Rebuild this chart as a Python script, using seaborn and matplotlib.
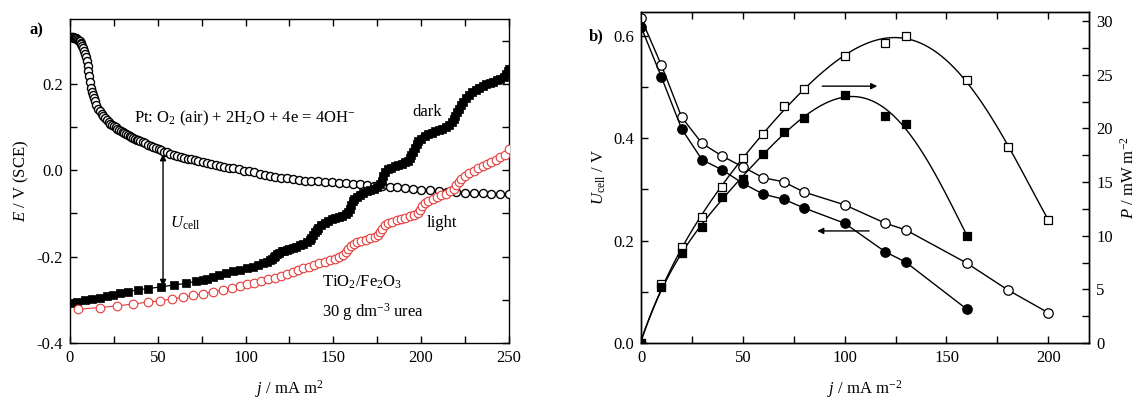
import numpy as np
import pandas as pd
import matplotlib
matplotlib.use("Agg")
import matplotlib.pyplot as plt
from matplotlib.ticker import MultipleLocator
import seaborn as sns

# ---------------- data: panel a ----------------
pt_j = [0.5, 1, 1.5, 2, 2.5, 3, 3.5, 4, 4.5, 5, 5.5, 6, 6.5, 7, 7.5, 8, 8.5, 9, 9.5, 10,
        10.5, 11, 11.5, 12, 12.5, 13, 13.5, 14, 15, 16, 17, 18, 19, 20, 21, 22, 23, 24, 25,
        26, 27, 28, 29, 30, 31, 32, 33, 34, 35, 36, 37, 38, 39, 40, 41.5, 43, 44.5, 46, 47.5,
        49, 50.5, 52, 53.5, 55, 57, 59, 61, 63, 65, 67, 69, 71, 73, 75.5, 78, 80.5, 83, 85.5,
        88, 90.5, 93, 96, 99, 102, 105, 108, 111, 114, 117, 120, 123.5, 127, 130.5, 134,
        137.5, 141, 145, 149, 153, 157, 161, 165, 169, 173, 177.5, 182, 186.5, 191, 195.5,
        200, 205, 210, 215, 220, 225, 230, 235, 240, 245, 250]
pt_E = [0.308, 0.308, 0.308, 0.307, 0.307, 0.306, 0.305, 0.304, 0.302, 0.300, 0.298, 0.295,
        0.291, 0.287, 0.282, 0.276, 0.269, 0.261, 0.252, 0.242, 0.230, 0.217, 0.203, 0.191,
        0.181, 0.173, 0.166, 0.160, 0.150, 0.142, 0.136, 0.130, 0.125, 0.120, 0.116, 0.112,
        0.108, 0.105, 0.102, 0.099, 0.096, 0.093, 0.090, 0.088, 0.085, 0.083, 0.081, 0.079,
        0.077, 0.075, 0.073, 0.071, 0.069, 0.067, 0.065, 0.062, 0.059, 0.057, 0.054, 0.052,
        0.049, 0.046, 0.043, 0.041, 0.038, 0.035, 0.033, 0.031, 0.029, 0.027, 0.025, 0.023,
        0.021, 0.019, 0.016, 0.014, 0.012, 0.010, 0.008, 0.006, 0.004, 0.002, -0.001, -0.003,
        -0.005, -0.008, -0.010, -0.013, -0.015, -0.017, -0.019, -0.021, -0.022,
        -0.024, -0.025, -0.026, -0.027, -0.028, -0.029, -0.030, -0.031, -0.032, -0.034,
        -0.036, -0.037, -0.039, -0.040, -0.042, -0.044, -0.045, -0.047, -0.048, -0.050,
        -0.051, -0.052, -0.053, -0.053, -0.054, -0.055, -0.055]

dark_j = [2, 4, 8.5, 12.3, 17, 21, 24.7, 28.5, 33, 39, 44.6, 52, 59, 66, 72, 76, 78, 81.6, 85,
          89, 93, 97, 100.6, 104, 107, 110, 112, 114, 115, 116, 117, 118, 119, 120.5, 122,
          123.5, 125, 127, 129, 131, 133, 135, 136.5, 137.5, 138.5, 139.5, 140.5, 141.5, 143,
          145, 147, 149, 151, 153, 155, 157, 158.5, 159.5, 160.3, 161, 162, 163.5, 165, 167,
          169, 171, 173, 175, 176.5, 177.5, 178.5, 179.5, 181, 183, 185, 187, 189, 191,
          192.5, 193.5, 194.5, 195.5, 196.5, 197.5, 198.5, 200, 202, 204, 206, 208, 210, 212,
          214, 216, 217.5, 218.5, 219.5, 220.5, 221.5, 222.5, 224, 225.5, 227, 229, 231, 233,
          235, 237, 239, 241, 243, 245, 247, 248.5, 249.5, 250]
dark_E = [-0.307, -0.306, -0.300, -0.298, -0.295, -0.292, -0.290, -0.285, -0.281, -0.277,
          -0.274, -0.270, -0.266, -0.262, -0.257, -0.254, -0.251, -0.247, -0.243, -0.238,
          -0.234, -0.230, -0.227, -0.223, -0.220, -0.216, -0.213, -0.209, -0.206, -0.202,
          -0.198, -0.194, -0.191, -0.188, -0.186, -0.184, -0.182, -0.180, -0.177, -0.174,
          -0.171, -0.167, -0.162, -0.156, -0.150, -0.144, -0.138, -0.133, -0.127, -0.122,
          -0.118, -0.114, -0.111, -0.108, -0.105, -0.102, -0.097, -0.089, -0.080, -0.072,
          -0.066, -0.061, -0.057, -0.053, -0.049, -0.046, -0.043, -0.039, -0.033, -0.024,
          -0.013, -0.004, 0.002, 0.006, 0.009, 0.012, 0.015, 0.018, 0.022, 0.028, 0.035,
          0.043, 0.052, 0.060, 0.067, 0.073, 0.079, 0.083, 0.087, 0.090, 0.093, 0.096, 0.100,
          0.105, 0.111, 0.118, 0.126, 0.134, 0.142, 0.150, 0.158, 0.166, 0.173, 0.180, 0.186,
          0.191, 0.195, 0.199, 0.202, 0.205, 0.208, 0.212, 0.216, 0.222, 0.230, 0.235]

light_j = [4.7, 17, 26.6, 36, 44.6, 51, 58, 64.5, 70, 76, 81.6, 87, 92, 97, 101, 105, 109,
           113, 116.5, 120, 123.5, 127, 130, 133, 136, 139, 142, 145, 148, 151, 153.5, 155.5,
           157, 158.5, 160, 161.5, 163.5, 166, 168.5, 171, 173.5, 175.5, 176.8, 178, 179.3,
           181, 183.5, 186, 188.5, 191, 193.5, 196, 198, 199.3, 200.5, 202, 204, 206.5, 209,
           211.5, 214, 216.5, 218.5, 220, 221.5, 223, 225, 227.5, 230, 232.5, 235, 237.5,
           240, 242.5, 245, 247.5, 250]
light_E = [-0.322, -0.318, -0.314, -0.310, -0.305, -0.303, -0.298, -0.294, -0.290, -0.286,
           -0.281, -0.277, -0.273, -0.268, -0.264, -0.260, -0.256, -0.252, -0.249, -0.244,
           -0.240, -0.235, -0.231, -0.227, -0.223, -0.220, -0.216, -0.212, -0.209, -0.205,
           -0.201, -0.196, -0.190, -0.183, -0.176, -0.171, -0.167, -0.164, -0.161, -0.158,
           -0.155, -0.150, -0.143, -0.135, -0.128, -0.122, -0.119, -0.116, -0.113, -0.110,
           -0.107, -0.104, -0.099, -0.092, -0.084, -0.076, -0.071, -0.067, -0.063, -0.058,
           -0.054, -0.049, -0.043, -0.035, -0.027, -0.020, -0.013, -0.007, -0.002, 0.004,
           0.009, 0.014, 0.019, 0.024, 0.030, 0.036, 0.048]

# ---------------- data: panel b ----------------
uo_j = [0, 10, 20, 30, 40, 50, 60, 70, 80, 100, 120, 130, 160, 180, 200]
uo_U = [0.635, 0.543, 0.441, 0.390, 0.365, 0.344, 0.323, 0.315, 0.295, 0.270, 0.234, 0.221,
        0.156, 0.104, 0.059]
uf_j = [0, 10, 20, 30, 40, 50, 60, 70, 80, 100, 120, 130, 160]
uf_U = [0.618, 0.520, 0.418, 0.358, 0.338, 0.312, 0.291, 0.281, 0.264, 0.234, 0.178, 0.158,
        0.066]
po_j = [0, 10, 20, 30, 40, 50, 60, 70, 80, 100, 120, 130, 160, 180, 200]
po_P = [0.0, 5.5, 8.9, 11.7, 14.5, 17.2, 19.5, 22.1, 23.7, 26.7, 28.0, 28.6, 24.5, 18.3, 11.5]
pf_j = [0, 10, 20, 30, 40, 50, 60, 70, 80, 100, 120, 130, 160]
pf_P = [0.0, 5.2, 8.4, 10.8, 13.6, 15.3, 17.6, 19.7, 21.0, 23.1, 21.2, 20.4, 10.0]

# ---------------- style ----------------
sns.set_style("ticks")
plt.rcParams["font.family"] = ["Liberation Serif", "DejaVu Serif"]
plt.rcParams["mathtext.fontset"] = "custom"
plt.rcParams["mathtext.rm"] = "Liberation Serif"
plt.rcParams["mathtext.it"] = "Liberation Serif:italic"
plt.rcParams["mathtext.bf"] = "Liberation Serif:bold"
plt.rcParams["axes.linewidth"] = 1.0
plt.rcParams["axes.unicode_minus"] = False
for k in ("text.color", "axes.labelcolor", "xtick.color", "ytick.color",
          "axes.edgecolor", "xtick.labelcolor", "ytick.labelcolor"):
    plt.rcParams[k] = "black"
FS = 12

fig = plt.figure(figsize=(11.4, 3.99), dpi=100)
axa = fig.add_axes([0.0614, 0.1404, 0.385, 0.812])
axb = fig.add_axes([0.5623, 0.1404, 0.393, 0.8296])
axb2 = axb.twinx()

# ---------------- panel a ----------------
sns.lineplot(x=pt_j, y=pt_E, ax=axa, color="black", lw=0.9, marker="o", markersize=5.8,
             markerfacecolor="white", markeredgecolor="black", markeredgewidth=1.0,
             sort=False, zorder=3)
# dense part of the dark curve reads as a solid band
dark_df = pd.DataFrame({"j": dark_j, "E": dark_E})
dense = dark_df[dark_df["j"] >= 113]
sns.lineplot(data=dense, x="j", y="E", ax=axa, color="black", lw=5.0, sort=False,
             zorder=4)
sns.lineplot(data=dark_df, x="j", y="E", ax=axa, color="black", lw=0.9, marker="s",
             markersize=5.2, markerfacecolor="black", markeredgecolor="black",
             markeredgewidth=0.5, sort=False, zorder=4)
sns.lineplot(x=light_j, y=light_E, ax=axa, color="#e33b3b", lw=0.8, marker="o",
             markersize=6.2, markerfacecolor="white", markeredgecolor="#e33b3b",
             markeredgewidth=0.8, sort=False, zorder=5)

axa.set_xlim(0, 250)
axa.set_ylim(-0.4, 0.35)
axa.xaxis.set_major_locator(MultipleLocator(50))
axa.xaxis.set_minor_locator(MultipleLocator(25))
axa.yaxis.set_major_locator(MultipleLocator(0.2))
axa.yaxis.set_minor_locator(MultipleLocator(0.1))
axa.yaxis.set_major_formatter(matplotlib.ticker.FuncFormatter(
    lambda v, p: f"{v:.1f}".replace("-0.0", "0.0")))
axa.tick_params(which="both", direction="in", top=True, right=True, labelsize=FS, pad=5,
                width=1.0, length=5)
axa.set_xlabel("$j$ / mA m$^2$", fontsize=FS, labelpad=9)
axa.set_ylabel("$E$ / V (SCE)", fontsize=FS, labelpad=4)

axa.annotate("", xy=(53, 0.037), xytext=(53, -0.268),
             arrowprops=dict(arrowstyle="<|-|>", color="black", lw=1.0,
                             mutation_scale=9, shrinkA=0, shrinkB=0))
axa.text(57, -0.122, "$U_{\\mathrm{cell}}$", fontsize=FS, va="center", ha="left")
axa.text(36.4, 0.12, "Pt: O$_2$ (air) + 2H$_2$O + 4e = 4OH$^{\\mathrm{-}}$", fontsize=FS,
         va="center", ha="left")
axa.text(195, 0.134, "dark", fontsize=FS, va="center", ha="left")
axa.text(203, -0.123, "light", fontsize=FS, va="center", ha="left")
axa.text(143.5, -0.259, "TiO$_2$/Fe$_2$O$_3$", fontsize=FS, va="center", ha="left")
axa.text(143.5, -0.328, "30 g dm$^{-3}$ urea", fontsize=FS, va="center", ha="left")
fig.text(0.032, 0.925, "a)", fontsize=FS, fontweight="bold", ha="center", va="center")

# ---------------- panel b ----------------
sns.lineplot(x=uo_j, y=uo_U, ax=axb, color="black", lw=1.0, marker="o", markersize=6.8,
             markerfacecolor="white", markeredgecolor="black", markeredgewidth=0.9,
             zorder=4)
sns.lineplot(x=uf_j, y=uf_U, ax=axb, color="black", lw=1.0, marker="o", markersize=6.8,
             markerfacecolor="black", markeredgecolor="black", markeredgewidth=0.9,
             zorder=4)

sns.regplot(x=po_j, y=po_P, ax=axb2, order=5, ci=None, scatter=False, truncate=True,
            line_kws=dict(color="black", lw=1.0))
sns.regplot(x=pf_j, y=pf_P, ax=axb2, order=5, ci=None, scatter=False, truncate=True,
            line_kws=dict(color="black", lw=1.0))
sns.scatterplot(x=po_j, y=po_P, ax=axb2, marker="s", s=38, facecolor="white",
                edgecolor="black", linewidth=0.9, zorder=5)
sns.scatterplot(x=pf_j, y=pf_P, ax=axb2, marker="s", s=38, facecolor="black",
                edgecolor="black", linewidth=0.9, zorder=5)

axb.set_xlim(0, 220)
axb.set_ylim(0, 0.647)
axb2.set_ylim(0, 30.85)
axb.xaxis.set_major_locator(MultipleLocator(50))
axb.xaxis.set_minor_locator(MultipleLocator(25))
axb.yaxis.set_major_locator(MultipleLocator(0.2))
axb.yaxis.set_minor_locator(MultipleLocator(0.1))
axb2.yaxis.set_major_locator(MultipleLocator(5))
axb2.yaxis.set_minor_locator(MultipleLocator(2.5))
axb.yaxis.set_major_formatter(matplotlib.ticker.FormatStrFormatter("%.1f"))
axb.tick_params(which="both", direction="in", top=True, right=False, labelsize=FS, pad=5,
                width=1.0, length=5)
axb2.tick_params(which="both", direction="in", labelsize=FS, pad=5, width=1.0, length=5)
axb.set_xlabel("$j$ / mA m$^{-2}$", fontsize=FS, labelpad=9)
axb.set_ylabel("$U_{\\mathrm{cell}}$ / V", fontsize=FS, labelpad=4)
axb2.set_ylabel("$P$ / mW m$^{-2}$", fontsize=FS, labelpad=5)
for a in (axb, axb2):
    for s in a.spines.values():
        s.set_visible(True)
        s.set_linewidth(1.0)

axb.annotate("", xy=(116, 0.502), xytext=(89, 0.502),
             arrowprops=dict(arrowstyle="-|>", color="black", lw=1.0, mutation_scale=9,
                             shrinkA=0, shrinkB=0))
axb.annotate("", xy=(86.5, 0.219), xytext=(112, 0.219),
             arrowprops=dict(arrowstyle="-|>", color="black", lw=1.0, mutation_scale=9,
                             shrinkA=0, shrinkB=0))
fig.text(0.523, 0.908, "b)", fontsize=FS, fontweight="bold", ha="center", va="center")

fig.savefig("out.png", dpi=100)
